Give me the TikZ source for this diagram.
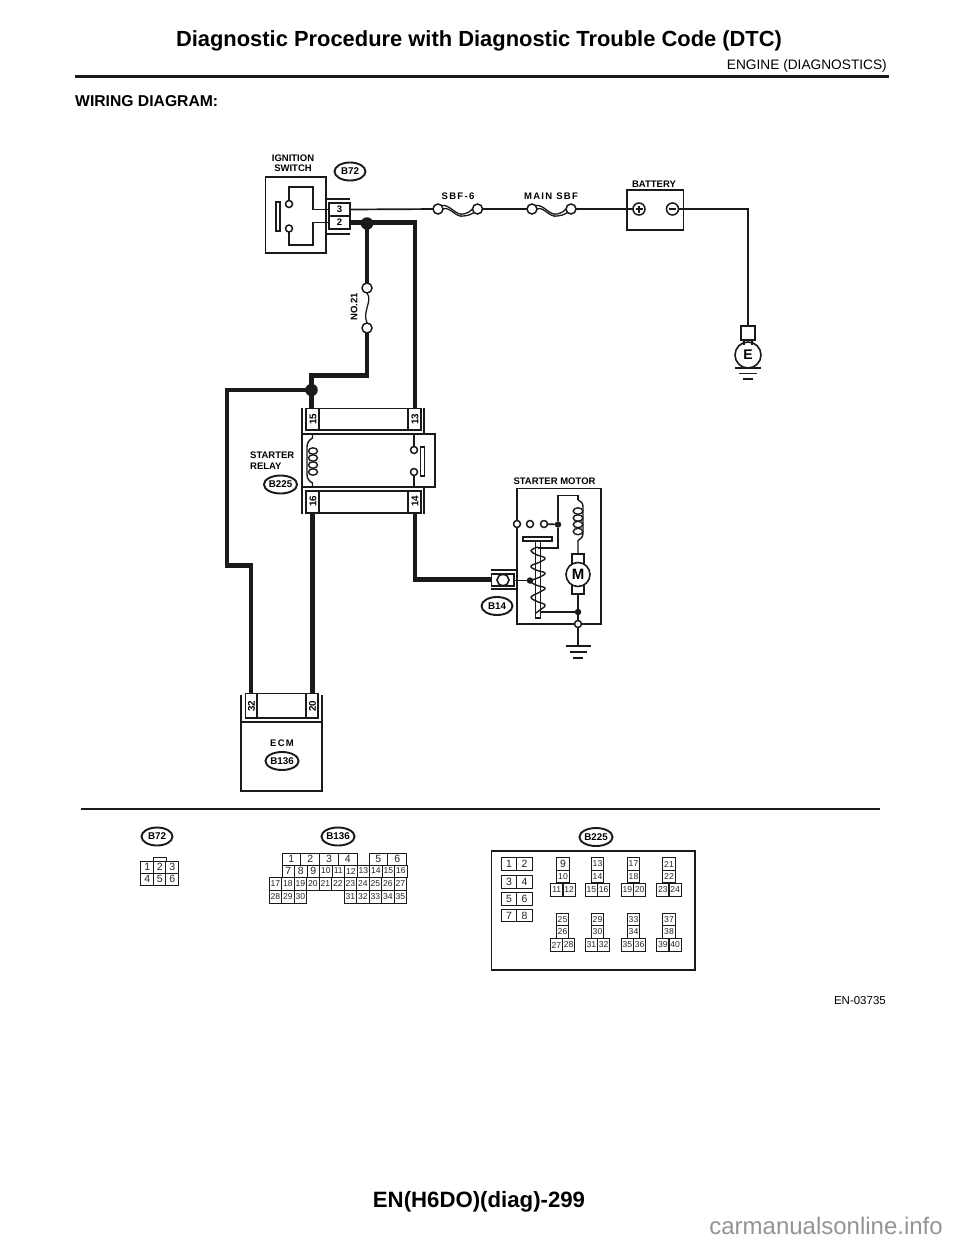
\documentclass[tikz,border=0pt]{standalone}
\usepackage{fontspec}
\setmainfont{Liberation Sans}
\newfontfamily\spacedfont[LetterSpace=14]{Liberation Sans}
\usetikzlibrary{calc,shapes.geometric}
\definecolor{ink}{HTML}{1A1A1A}
\tikzset{
  thinwire/.style={draw=ink,line width=1.7pt},
  thickwire/.style={draw=ink,line width=4.4pt},
  boxline/.style={draw=ink,line width=1.6pt},
  hollow/.style={circle,draw=ink,fill=white,line width=1.5pt,minimum size=#1,inner sep=0pt,outer sep=0pt},
  dotnode/.style={circle,fill=ink,minimum size=#1,inner sep=0pt,outer sep=0pt},
  conntag/.style={ellipse,draw=ink,line width=1.9pt,inner sep=0pt,minimum width=31pt,minimum height=18pt,font=\fontsize{9.8}{11}\selectfont\bfseries},
  lab/.style={inner sep=0pt,font=\fontsize{9.5}{11}\selectfont\bfseries},
  pinno/.style={inner sep=0pt,rotate=90,font=\fontsize{9.8}{11}\selectfont\bfseries},
  gridcell/.style={rectangle,draw=ink,line width=1pt,inner sep=0pt,outer sep=0pt,minimum width=#1,text=black!85},
  gridcell/.default=12.5pt,
}
% cell: number, centre x, centre y, width, height, font size, name
\newcommand{\gcell}[7]{\node[gridcell=#4pt,minimum height=#5pt,font=\fontsize{#6}{#6}\selectfont] (#7) at (#2,#3) {#1};}
\begin{document}
\begin{tikzpicture}[x=1pt,y=-1pt]
\useasboundingbox (0,0) rectangle (960,1242);
\fill[white] (0,0) rectangle (960,1242);
% header
\node[inner sep=0pt,font=\fontsize{21.9}{26}\selectfont\bfseries] (title) at (479,41) {Diagnostic Procedure with Diagnostic Trouble Code (DTC)};
\node[inner sep=0pt,anchor=east,font=\fontsize{13.7}{16}\selectfont] (section) at (887,65.5) {ENGINE (DIAGNOSTICS)};
\draw[ink,line width=3.8pt] (75,76.5) -- (889,76.5);
\node[inner sep=0pt,anchor=west,font=\fontsize{15.7}{18}\selectfont\bfseries] (wiring) at (75,101) {WIRING DIAGRAM:};
% ignition switch
\node[lab,align=center] (ignlab) at (293,163.5) {IGNITION\\[-1pt]SWITCH};
\node[conntag] (tagbb) at (350,171.5) {B72};
\draw[boxline] (265.5,177) rectangle (326,253);
\draw[boxline] (276,202) rectangle (280,231);
\node[hollow=7pt] (swa) at (289,204) {};
\node[hollow=7pt] (swb) at (289,228.5) {};
\node[rectangle,boxline,fill=white,minimum width=21pt,minimum height=13pt,inner sep=0pt,outer sep=0pt,font=\fontsize{9.5}{11}\selectfont\bfseries] (pinthree) at (339.5,209.5) {3};
\node[rectangle,boxline,fill=white,minimum width=21pt,minimum height=13pt,inner sep=0pt,outer sep=0pt,font=\fontsize{9.5}{11}\selectfont\bfseries] (pintwo) at (339.5,222.5) {2};
\draw[boxline] (326,199) -- (350,199);
\draw[boxline] (326,234) -- (350,234);
\draw[thinwire] (swa.north) |- (313,187) |- (pinthree.west);
\draw[thinwire] (swb.south) |- (313,245) |- (pintwo.west);
% battery line
\node[hollow=10pt] (sbfa) at (438,209) {};
\node[hollow=10pt] (sbfb) at (477.5,209) {};
\node[hollow=10pt] (mba) at (532,209) {};
\node[hollow=10pt] (mbb) at (571,209) {};
\node[lab,font=\spacedfont\fontsize{9.5}{11}\selectfont\bfseries] (sbflab) at (458,196) {SBF-6};
\node[lab,font=\spacedfont\fontsize{9.5}{11}\selectfont\bfseries] (mblab) at (551,196) {MAIN SBF};
\foreach \a/\b in {sbfa/sbfb,mba/mbb}{
  \draw[ink,line width=1.3pt] (\a.north east) .. controls ($(\a)!.3!(\b)+(0,-5)$) and ($(\a)!.45!(\b)+(0,7)$) .. ($(\a)!.65!(\b)+(0,5)$) .. controls ($(\a)!.8!(\b)+(0,3)$) .. (\b.west);
  \draw[ink,line width=1.3pt] (\a.east) .. controls ($(\a)!.3!(\b)+(0,-3)$) and ($(\a)!.45!(\b)+(0,9)$) .. ($(\a)!.65!(\b)+(0,7)$) .. controls ($(\a)!.8!(\b)+(0,6)$) .. (\b.south west);
}
\node[lab] (batlab) at (654,184) {BATTERY};
\draw[boxline] (627,190) rectangle (683.5,230);
\node[hollow=12pt] (bplus) at (639,209) {};
\node[hollow=12pt] (bminus) at (672.5,209) {};
\draw[ink,line width=1.5pt] (635.5,209) -- (642.5,209) (639,205.5) -- (639,212.5) (669,209) -- (676,209);
\draw[thinwire] (pinthree.east) -- (sbfa);
\draw[thinwire] (sbfb) -- (mba);
\draw[thinwire] (mbb) -- (bplus);
% earth
\node[rectangle,boxline,minimum width=14pt,minimum height=14pt,inner sep=0pt,outer sep=0pt] (esq) at (748,333) {};
\node[circle,draw=ink,line width=1.6pt,minimum size=26pt,inner sep=0pt,outer sep=0pt,font=\fontsize{14}{16}\selectfont\bfseries] (earth) at (748,355) {E};
\draw[thinwire] (bminus) -| (esq.north);
\draw[thinwire] (744,340) -- (744,345) (752,340) -- (752,345);
\draw[ink,line width=1.6pt] (735,368) -- (761,368) (739,373.5) -- (757,373.5) (743,379) -- (753,379);
% power wires
\coordinate (jtop) at (367,223.5);
\coordinate (jrel) at (311.5,390);
\node[hollow=10pt] (fa) at (367,288) {};
\node[hollow=10pt] (fb) at (367,328) {};
\node[lab,rotate=90] (nolab) at (354,307) {NO.21};
\draw[ink,line width=1.3pt] (fa.south) .. controls (373,301) and (362,311) .. (fb.north);
\draw[thickwire] (pintwo.east) -- (415,222.5) -- (415,408);
\draw[thickwire] (jtop) -- (fa.north);
\draw[thickwire] (fb.south) -- (367,375.5) -- (311.5,375.5) -- (311.5,408);
\draw[thickwire] (jrel) -- (227,390) -- (227,565.5) -- (251,565.5) -- (251,693);
\node[dotnode=12.5pt] (jtopdot) at (jtop) {};
\node[dotnode=12.5pt] (jreldot) at (jrel) {};
% relay
\draw[boxline] (302,434) rectangle (435,487);
\draw[boxline] (302,408) -- (302,434) (424,408) -- (424,434) (302,487) -- (302,514) (424,487) -- (424,514);
\draw[boxline,fill=white] (306,408.5) rectangle (421,430);
\draw[boxline,fill=white] (306,491) rectangle (421,513);
\draw[boxline] (319,408.5) -- (319,430) (408,408.5) -- (408,430) (319,491) -- (319,513) (408,491) -- (408,513);
\node[pinno] (rxv) at (313,419) {15};
\node[pinno] (rxiii) at (415,419) {13};
\node[pinno] (rxvi) at (313,501.5) {16};
\node[pinno] (rxiv) at (415,501.5) {14};
% relay coil
\draw[ink,line width=1.4pt] (312.5,434) -- (312.5,438) .. controls (309,440) and (307,443) .. (307,447) -- (307,474) .. controls (307,479) and (309,481) .. (312.5,483) -- (312.5,487);
\foreach \y in {451,458,465,472}{\draw[ink,line width=1.4pt] (313,\y) ellipse (4.5pt and 3.2pt);}
% relay contact
\node[hollow=7pt] (rca) at (414,450) {};
\node[hollow=7pt] (rcb) at (414,472) {};
\draw[thinwire] (414,434) -- (rca.north) (rcb.south) -- (414,487);
\draw[boxline] (420.5,447) rectangle (424.5,476);
\node[lab,anchor=west] (srlab) at (250,455) {STARTER};
\node[lab,anchor=west] (srlabb) at (250,466.5) {RELAY};
\node[conntag] (tagrel) at (280.5,484.5) {B225};
\draw[thickwire] (312.5,514) -- (312.5,693);
% starter motor
\node[lab] (smlab) at (554.5,481) {STARTER MOTOR};
\draw[boxline] (517,488.5) rectangle (601,624);
\draw[thickwire] (415,514) -- (415,579.5) -- (491,579.5);
\draw[boxline] (491,570) -- (517,570) (491,589) -- (517,589);
\draw[boxline,fill=white] (491.5,574) rectangle (514,586);
\draw[boxline] (503,580) ellipse (6pt and 5.5pt);
\node[conntag] (tagst) at (497,606) {B14};
\node[hollow=7pt] (ca) at (517,524) {};
\node[hollow=7pt] (cb) at (530,524) {};
\node[hollow=7pt] (cc) at (544,524) {};
\node[dotnode=6.5pt] (cd) at (558,524.5) {};
\node[dotnode=6.5pt] (ce) at (530,580.5) {};
\node[dotnode=6.5pt] (cf) at (578,612) {};
\node[hollow=7pt] (cg) at (578,624) {};
\draw[thinwire] (cc) -- (cd);
\draw[thinwire] (cd) |- (578,495.5) -- (578,500);
\draw[thinwire] (cd) |- (538,548);
\draw[thinwire] (514,580.5) -- (ce);
% plunger and winding
\draw[ink,line width=1.4pt] plot[smooth,tension=.7] coordinates {(538,547) (531,550.5) (536,554.5) (545,558) (540,562) (531,566) (536,570) (545,573) (540,577) (531,581) (536,585) (545,588) (540,592) (531,597) (536,601) (545,605) (540,610) (536,613)};
\draw[boxline] (523,537) rectangle (552,541);
\draw[boxline] (535.5,541) -- (535.5,618) -- (540.5,618) -- (540.5,541);
\draw[thinwire] (540.5,612) -- (cf);
% motor field coil
\draw[ink,line width=1.4pt] (578,500) .. controls (581,501) and (583,503) .. (583,507) -- (583,533) .. controls (583,537) and (581,539) .. (578,540.5) -- (578,553);
\foreach \y in {511,518,524.5,531.5}{\draw[ink,line width=1.4pt] (578,\y) ellipse (4.8pt and 3.2pt);}
% motor
\draw[boxline] (572,554) rectangle (584,594);
\node[circle,draw=ink,fill=white,line width=1.6pt,minimum size=24pt,inner sep=0pt,outer sep=0pt,font=\fontsize{15}{17}\selectfont\bfseries] (motor) at (578,574.5) {M};
\draw[thinwire] (578,594) -- (cf) -- (cg);
\coordinate (gnd) at (578,646);
\draw[thinwire] (cg) -- (gnd);
\draw[ink,line width=1.6pt] (566,646) -- (591,646) (570,652) -- (587,652) (573,658) -- (583,658);
% ECM
\draw[boxline] (241,695) -- (241,791) -- (322,791) -- (322,695);
\draw[boxline] (241,722) -- (322,722);
\draw[boxline,fill=white] (245.5,693.5) rectangle (318,718);
\draw[boxline] (257,693.5) -- (257,718) (306,693.5) -- (306,718);
\node[pinno] (eca) at (251.5,706) {32};
\node[pinno] (ecb) at (312.5,706) {20};
\node[lab,font=\spacedfont\fontsize{9.5}{11}\selectfont\bfseries] (ecmlab) at (282,743) {ECM};
\node[conntag] (tagecm) at (282,761) {B136};
% separator
\draw[ink,line width=2.4pt] (81,809) -- (880,809);
% B72 connector view
\node[conntag] (tagba) at (157,836.5) {B72};
\draw[ink,line width=1pt] (153.5,861) -- (153.5,857) -- (166,857) -- (166,861);
\foreach \n/\x/\y in {1/147.2/867,2/159.7/867,3/172.2/867,4/147.2/879,5/159.7/879,6/172.2/879}{\gcell{\n}{\x}{\y}{12.5}{12}{10.5}{ba\n}}
% B136 connector view
\node[conntag] (tagbc) at (338,836.5) {B136};
\foreach \n/\x in {1/291.4,2/310.2,3/329,4/347.8,5/378.4,6/397.2}{\gcell{\n}{\x}{859}{18.8}{12}{10.5}{bc\n}}
\foreach \n/\x in {7/288.3,8/300.8}{\gcell{\n}{\x}{871}{12.5}{12}{10.5}{bc\n}}
\gcell{9}{313.3}{871}{12.5}{12}{10.5}{bcix}
\foreach \n/\x in {10/325.8,11/338.3,12/350.8,13/363.3,14/375.8,15/388.3,16/400.8}{\gcell{\n}{\x}{871}{12.5}{12}{8.6}{bc\n}}
\foreach \n/\x in {17/275.3,18/287.8,19/300.3,20/312.8,21/325.3,22/337.8,23/350.3,24/362.8,25/375.3,26/387.8,27/400.3}{\gcell{\n}{\x}{883.5}{12.5}{13}{8.6}{bc\n}}
\foreach \n/\x in {28/275.3,29/287.8,30/300.3,31/350.3,32/362.8,33/375.3,34/387.8,35/400.3}{\gcell{\n}{\x}{896.5}{12.5}{13}{8.6}{bc\n}}
% B225 connector view
\node[conntag] (tagbd) at (596,837) {B225};
\draw[ink,line width=1.1pt] (491.5,851) rectangle (695,970);
\foreach \a/\b/\y in {1/2/864,3/4/882,5/6/899,7/8/915.5}{
  \gcell{\a}{509}{\y}{15.7}{12.5}{10.5}{bd\a}
  \gcell{\b}{524.6}{\y}{15.7}{12.5}{10.5}{bd\b}
}
\foreach \a/\b/\c/\d/\cx in {9/10/11/12/563,13/14/15/16/597.5,17/18/19/20/633.5,21/22/23/24/669}{
  \pgfmathsetmacro{\lx}{\cx-6.2}\pgfmathsetmacro{\rx}{\cx+6.2}
  \ifnum\a=9 \gcell{\a}{\cx}{864}{12.5}{12.5}{10.5}{bd\a}\else \gcell{\a}{\cx}{864}{12.5}{12.5}{8.6}{bd\a}\fi
  \gcell{\b}{\cx}{876.5}{12.5}{12.5}{8.6}{bd\b}
  \gcell{\c}{\lx}{889.5}{12.5}{13}{8.6}{bd\c}
  \gcell{\d}{\rx}{889.5}{12.5}{13}{8.6}{bd\d}
}
\foreach \a/\b/\c/\d/\cx in {25/26/27/28/562.5,29/30/31/32/597.5,33/34/35/36/633.5,37/38/39/40/669}{
  \pgfmathsetmacro{\lx}{\cx-6.2}\pgfmathsetmacro{\rx}{\cx+6.2}
  \gcell{\a}{\cx}{919.5}{12.5}{12.5}{8.6}{bd\a}
  \gcell{\b}{\cx}{932}{12.5}{12.5}{8.6}{bd\b}
  \gcell{\c}{\lx}{945}{12.5}{13}{8.6}{bd\c}
  \gcell{\d}{\rx}{945}{12.5}{13}{8.6}{bd\d}
}
\node[inner sep=0pt,anchor=east,font=\fontsize{11.5}{13}\selectfont] (code) at (886,1001) {EN-03735};
% footer
\node[inner sep=0pt,font=\fontsize{22.2}{26}\selectfont\bfseries] (foot) at (479,1202) {EN(H6DO)(diag)-299};
\node[inner sep=0pt,anchor=east,text=black!42,font=\fontsize{24}{28}\selectfont] (mark) at (943,1226) {carmanualsonline.info};
\end{tikzpicture}
\end{document}
